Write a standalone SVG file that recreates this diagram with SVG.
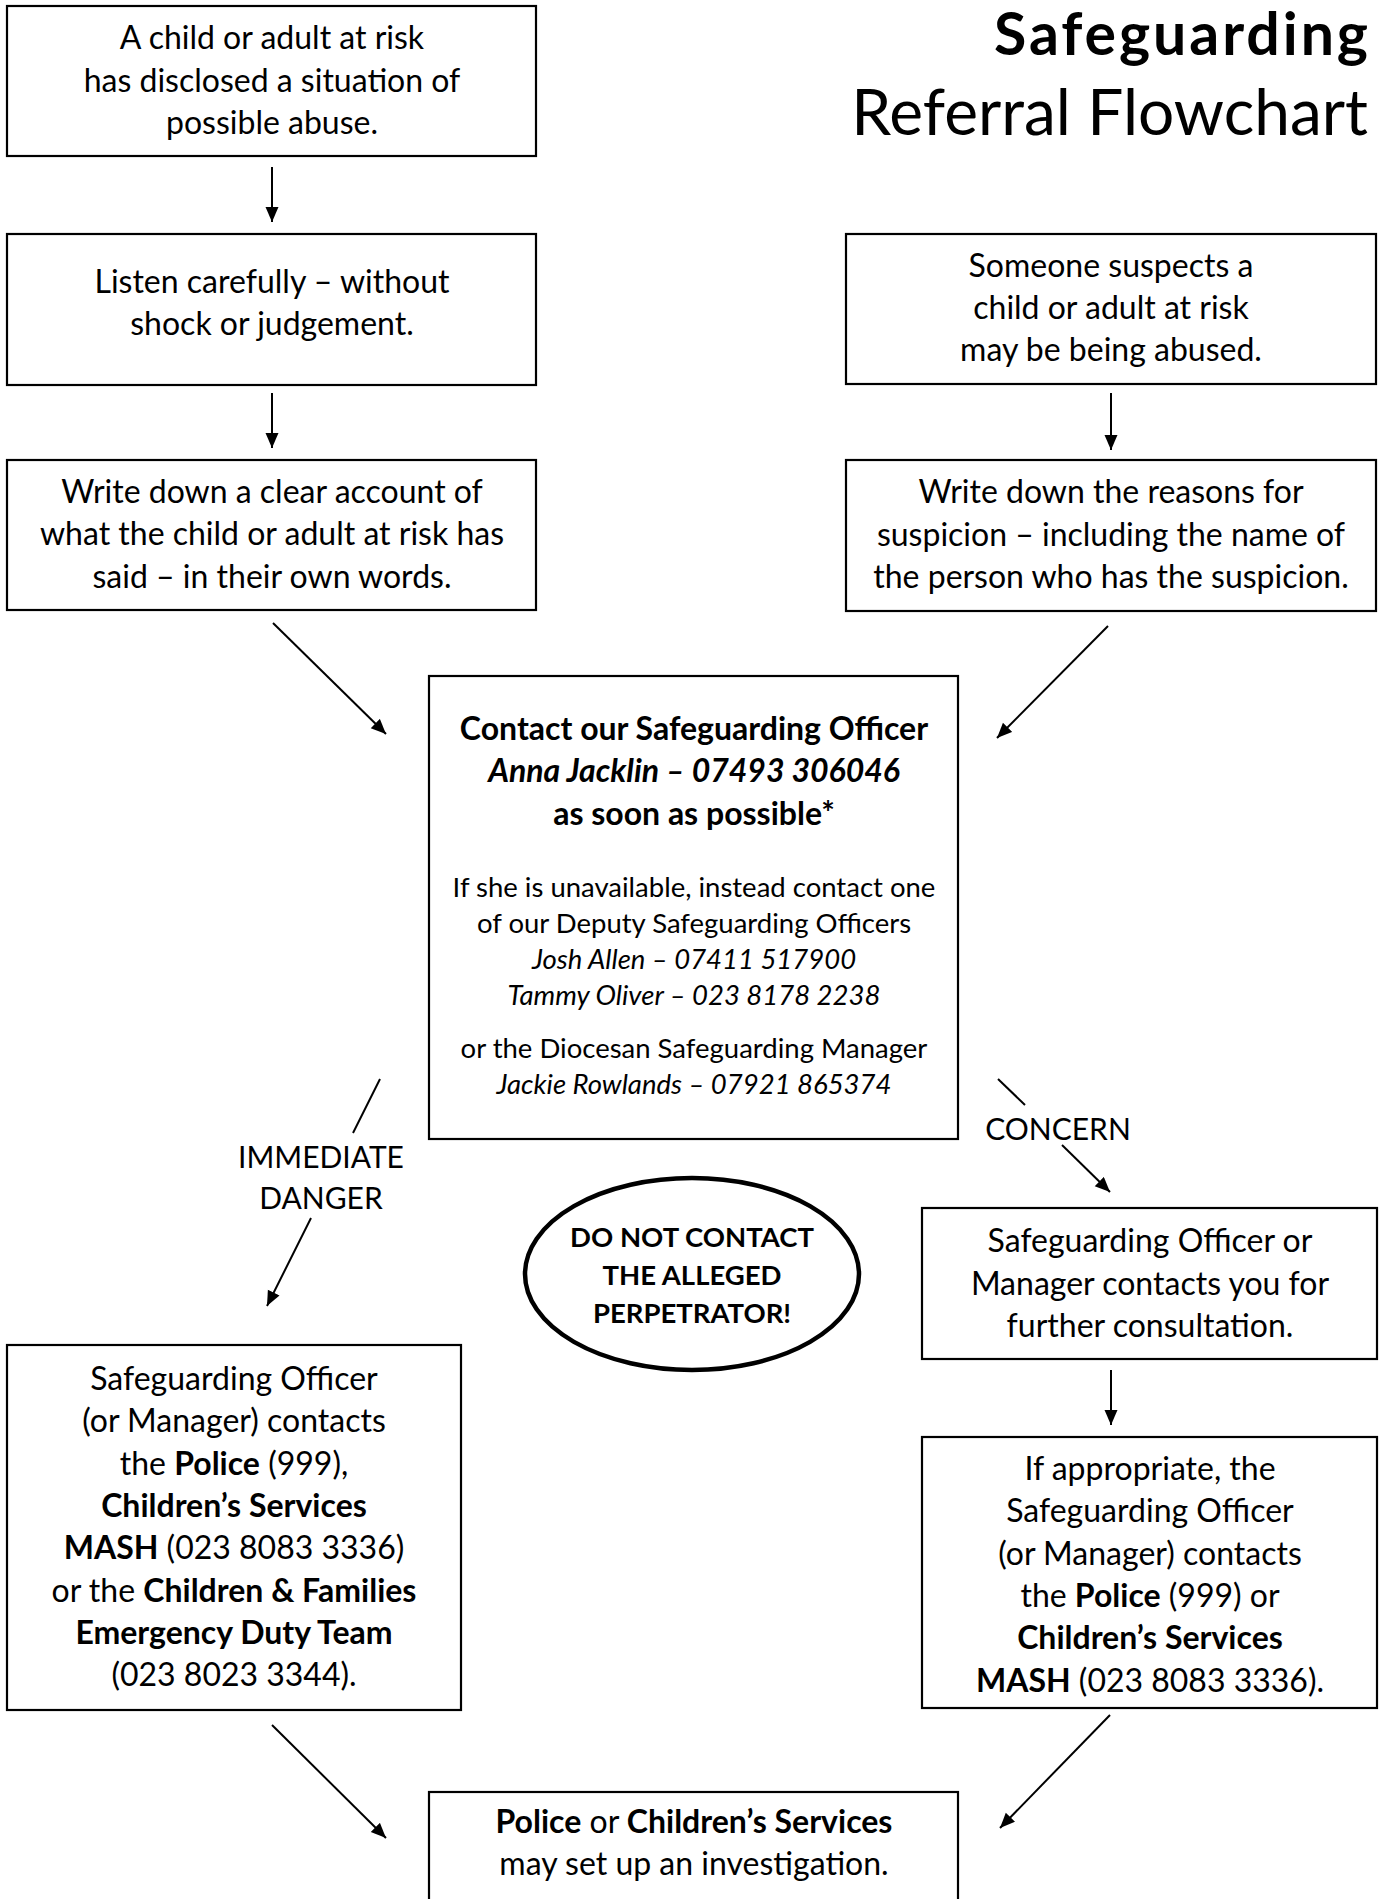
<svg xmlns="http://www.w3.org/2000/svg" width="1384" height="1899" viewBox="0 0 1384 1899">
<defs>
<marker id="ah" markerUnits="userSpaceOnUse" markerWidth="16" markerHeight="14" refX="15" refY="6.5" orient="auto">
<path d="M0,0 L15,6.5 L0,13 z" fill="#000"/>
</marker>
<style>
.box{fill:#fff;stroke:#000;stroke-width:2.2}
.t{font-family:Lato,"Open Sans",sans-serif;font-size:32px;fill:#000;text-anchor:middle}
.s{font-size:27.5px}
.l{font-size:30px}
.b{font-weight:bold}
.i{font-style:italic}
.c{stroke:#000;stroke-width:2;fill:none}
.ca{stroke:#000;stroke-width:2;fill:none;marker-end:url(#ah)}
</style>
</defs>
<rect width="1384" height="1899" fill="#fff"/>

<g id="title">
<text class="t b" x="1368" y="55" style="text-anchor:end;font-size:59px" textLength="374" lengthAdjust="spacing">Safeguarding</text>
<text class="t" x="1368" y="135" style="text-anchor:end;font-size:64px">Referral Flowchart</text>
</g>

<g id="disclosed">
<rect class="box" x="7" y="6" width="529" height="150"/>
<text class="t" x="272" y="49">A child or adult at risk</text>
<text class="t" x="272" y="92">has disclosed a situation of</text>
<text class="t" x="272" y="134">possible abuse.</text>
</g>

<g id="listen">
<rect class="box" x="7" y="234" width="529" height="151"/>
<text class="t" x="272" y="293">Listen carefully – without</text>
<text class="t" x="272" y="335">shock or judgement.</text>
</g>

<g id="write-account">
<rect class="box" x="7" y="460" width="529" height="150"/>
<text class="t" x="272" y="503">Write down a clear account of</text>
<text class="t" x="272" y="545">what the child or adult at risk has</text>
<text class="t" x="272" y="588">said – in their own words.</text>
</g>

<g id="suspects">
<rect class="box" x="846" y="234" width="530" height="150"/>
<text class="t" x="1111" y="277">Someone suspects a</text>
<text class="t" x="1111" y="319">child or adult at risk</text>
<text class="t" x="1111" y="361">may be being abused.</text>
</g>

<g id="write-reasons">
<rect class="box" x="846" y="460" width="530" height="151"/>
<text class="t" x="1111" y="503">Write down the reasons for</text>
<text class="t" x="1111" y="546">suspicion – including the name of</text>
<text class="t" x="1111" y="588">the person who has the suspicion.</text>
</g>

<g id="contact-officer">
<rect class="box" x="429" y="676" width="529" height="463"/>
<text class="t b" x="694" y="740">Contact our Safeguarding Officer</text>
<text class="t b i" x="694" y="782">Anna Jacklin – 07493 306046</text>
<text class="t b" x="694" y="825">as soon as possible*</text>
<text class="t s" x="694" y="897">If she is unavailable, instead contact one</text>
<text class="t s" x="694" y="933">of our Deputy Safeguarding Officers</text>
<text class="t s i" x="694" y="969">Josh Allen – 07411 517900</text>
<text class="t s i" x="694" y="1005">Tammy Oliver – 023 8178 2238</text>
<text class="t s" x="694" y="1058">or the Diocesan Safeguarding Manager</text>
<text class="t s i" x="694" y="1094">Jackie Rowlands – 07921 865374</text>
</g>

<g id="do-not-contact">
<ellipse cx="692" cy="1274" rx="167" ry="96" fill="#fff" stroke="#000" stroke-width="4.5"/>
<text class="t b s" x="692" y="1247">DO NOT CONTACT</text>
<text class="t b s" x="692" y="1285">THE ALLEGED</text>
<text class="t b s" x="692" y="1323">PERPETRATOR!</text>
</g>

<g id="immediate-action">
<rect class="box" x="7" y="1345" width="454" height="365"/>
<text class="t" x="234" y="1390">Safeguarding Officer</text>
<text class="t" x="234" y="1432">(or Manager) contacts</text>
<text class="t" x="234" y="1475">the <tspan class="b">Police</tspan> (999),</text>
<text class="t b" x="234" y="1517">Children’s Services</text>
<text class="t" x="234" y="1559"><tspan class="b">MASH</tspan> (023 8083 3336)</text>
<text class="t" x="234" y="1602">or the <tspan class="b">Children &amp; Families</tspan></text>
<text class="t b" x="234" y="1644">Emergency Duty Team</text>
<text class="t" x="234" y="1686">(023 8023 3344).</text>
</g>

<g id="consultation">
<rect class="box" x="922" y="1208" width="455" height="151"/>
<text class="t" x="1150" y="1252">Safeguarding Officer or</text>
<text class="t" x="1150" y="1295">Manager contacts you for</text>
<text class="t" x="1150" y="1337">further consultation.</text>
</g>

<g id="if-appropriate">
<rect class="box" x="922" y="1437" width="455" height="271"/>
<text class="t" x="1150" y="1480">If appropriate, the</text>
<text class="t" x="1150" y="1522">Safeguarding Officer</text>
<text class="t" x="1150" y="1565">(or Manager) contacts</text>
<text class="t" x="1150" y="1607">the <tspan class="b">Police</tspan> (999) or</text>
<text class="t b" x="1150" y="1649">Children’s Services</text>
<text class="t" x="1150" y="1692"><tspan class="b">MASH</tspan> (023 8083 3336).</text>
</g>

<g id="investigation">
<rect class="box" x="429" y="1792" width="529" height="120"/>
<text class="t" x="694" y="1833"><tspan class="b">Police</tspan> or <tspan class="b">Children’s Services</tspan></text>
<text class="t" x="694" y="1875">may set up an investigation.</text>
</g>

<g id="labels">
<text class="t l" x="321" y="1168">IMMEDIATE</text>
<text class="t l" x="321" y="1209">DANGER</text>
<text class="t l" x="1058" y="1140">CONCERN</text>
</g>

<g id="connectors">
<line class="ca" x1="272" y1="167" x2="272" y2="222"/>
<line class="ca" x1="272" y1="393" x2="272" y2="448"/>
<line class="ca" x1="1111" y1="393" x2="1111" y2="450"/>
<line class="ca" x1="273" y1="623" x2="386" y2="734"/>
<line class="ca" x1="1108" y1="626" x2="997" y2="738"/>
<line class="c" x1="380" y1="1079" x2="353" y2="1133"/>
<line class="ca" x1="311" y1="1218" x2="267" y2="1306"/>
<line class="c" x1="998" y1="1079" x2="1025" y2="1105"/>
<line class="ca" x1="1062" y1="1145" x2="1110" y2="1192"/>
<line class="ca" x1="1111" y1="1370" x2="1111" y2="1425"/>
<line class="ca" x1="272" y1="1725" x2="386" y2="1838"/>
<line class="ca" x1="1110" y1="1715" x2="1000" y2="1828"/>
</g>
</svg>
